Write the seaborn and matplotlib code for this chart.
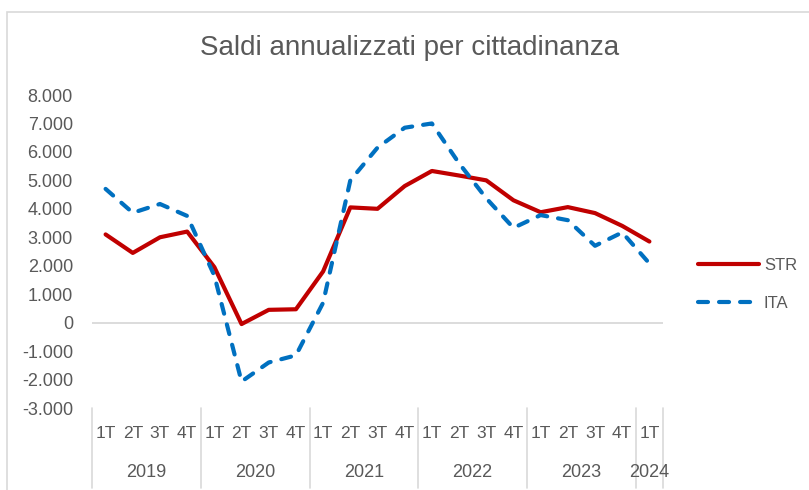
import matplotlib
matplotlib.use("Agg")
import matplotlib.pyplot as plt
import seaborn as sns
import pandas as pd
from matplotlib.lines import Line2D
from matplotlib.patches import Rectangle

quarters = ["1T", "2T", "3T", "4T"] * 5 + ["1T"]
years = ["2019", "2020", "2021", "2022", "2023", "2024"]
year_sizes = [4, 4, 4, 4, 4, 1]
str_vals = [3100, 2450, 3000, 3200, 1950, -50, 450, 470, 1800, 4050, 4000, 4800,
            5330, 5170, 5000, 4300, 3880, 4060, 3850, 3400, 2850]
ita_vals = [4700, 3860, 4170, 3750, 1650, -2070, -1400, -1150, 700, 5000, 6150, 6850,
            7000, 5600, 4370, 3330, 3780, 3600, 2700, 3170, 2080]
yticks = list(range(-3000, 8001, 1000))

W, H = 809, 490
n = len(quarters)
df = pd.DataFrame({
    "pos": list(range(n)) * 2,
    "valore": str_vals + ita_vals,
    "serie": ["STR"] * n + ["ITA"] * n,
})

sns.set_theme(style="white")
plt.rcParams["font.family"] = ["Liberation Sans", "DejaVu Sans"]
grey = "#595959"
DASH = (2.4, 2.65)

fig = plt.figure(figsize=(W / 100, H / 100), dpi=100)
fig.patch.set_facecolor("white")
# chart border
fig.add_artist(Rectangle((6.5 / W, -0.1), 1.2, (H - 12.5) / H + 0.1, transform=fig.transFigure,
                         fill=False, edgecolor="#D9D9D9", linewidth=1.2))

x0, x1, ytop, ybot = 92, 663, 95, 408
ax = fig.add_axes([x0 / W, (H - ybot) / H, (x1 - x0) / W, (ybot - ytop) / H])
sns.lineplot(data=df, x="pos", y="valore", hue="serie", style="serie",
             palette={"STR": "#C00000", "ITA": "#0070C0"},
             dashes={"STR": "", "ITA": DASH}, linewidth=3.0, ax=ax,
             legend=False, zorder=3)
for ln in ax.get_lines():
    ln.set_dash_capstyle("round")
    ln.set_solid_capstyle("round")
    ln.set_solid_joinstyle("round")

ax.axhline(0, color="#D9D9D9", linewidth=1.3, zorder=1)
ax.set_xlim(-0.5, n - 0.5)
ax.set_ylim(-3000, 8000)
ax.set_yticks(yticks)
ax.set_yticklabels([f"{v:,}".replace(",", ".") for v in yticks], color=grey, fontsize=13)
ax.tick_params(axis="y", length=0, pad=13.7)
ax.set_xticks([])
ax.set_xlabel("")
ax.set_ylabel("")
for s in ax.spines.values():
    s.set_visible(False)
ax.patch.set_alpha(0)

trans = ax.get_xaxis_transform()
hgt = ybot - ytop
for i, q in enumerate(quarters):
    ax.text(i, -(433 - ybot) / hgt, q, transform=trans, ha="center", va="center",
            color=grey, fontsize=12.5)
start = 0
bounds = [-0.5]
for y, sz in zip(years, year_sizes):
    ax.text(start + (sz - 1) / 2, -(472 - ybot) / hgt, y, transform=trans,
            ha="center", va="center", color=grey, fontsize=13)
    start += sz
    bounds.append(start - 0.5)
for b in bounds:
    ax.plot([b, b], [0, -(488 - ybot) / hgt], transform=trans, color="#D9D9D9",
            linewidth=1.2, clip_on=False)

fig.text(410 / W, 1 - 48 / H, "Saldi annualizzati per cittadinanza", ha="center", va="center",
         color=grey, fontsize=20)

handles = [Line2D([], [], color="#C00000", lw=3.0, solid_capstyle="round"),
           Line2D([], [], color="#0070C0", lw=3.0, dashes=DASH, dash_capstyle="round")]
fig.legend(handles, ["STR", "ITA"], loc="center left",
           bbox_to_anchor=(698 / W, 1 - 284.5 / H), frameon=False, fontsize=12,
           labelcolor=grey, handlelength=3.65, handletextpad=0.3, labelspacing=1.35,
           borderaxespad=0, borderpad=0)

fig.savefig("out.png", dpi=100, facecolor="white")
